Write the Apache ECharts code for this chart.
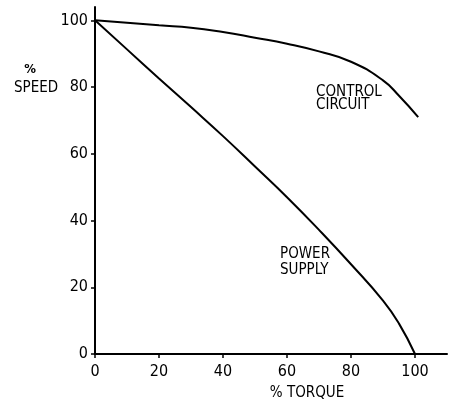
<!DOCTYPE html>
<html>
<head>
<meta charset="utf-8">
<script src="https://cdn.jsdelivr.net/npm/echarts@6/dist/echarts.min.js"></script>
<style>
  html, body { margin: 0; padding: 0; background: #fff; }
  #main { width: 451px; height: 403px; }
</style>
</head>
<body>
<div id="main"></div>
<script>
// values (% torque -> % speed)
const powerTorque = [0, 10, 20, 30, 40, 50, 60, 70, 80, 90, 95, 100];
const powerSpeed = [100, 91.3, 82.6, 74, 65.3, 56.2, 47, 37.2, 26.9, 16, 9.1, 0];
const controlTorque = [0, 10, 20, 30, 40, 50, 60, 70, 80, 90, 95, 101];
const controlSpeed = [100, 99.3, 98.5, 97.8, 96.5, 94.8, 93, 90.7, 87.6, 82, 77.4, 71];
const tickValues = [0, 20, 40, 60, 80, 100];

const font = '"DejaVu Sans Condensed", "DejaVu Sans", sans-serif';
const zip = (xs, ys) => xs.map((x, i) => [x, ys[i]]);

const myChart = echarts.init(document.getElementById('main'));

const axisCommon = {
  type: 'value',
  splitLine: { show: false },
  axisLine: { show: true, onZero: false, lineStyle: { color: '#000', width: 2 } },
  axisTick: { show: true, length: 4, customValues: tickValues, lineStyle: { color: '#000', width: 1.5 } },
  axisLabel: { customValues: tickValues, color: '#000', fontSize: 16, fontFamily: font }
};

const lineSeries = (name, xs, ys) => ({
  name: name,
  type: 'line',
  smooth: true,
  showSymbol: false,
  lineStyle: { color: '#000', width: 2 },
  data: zip(xs, ys)
});

const option = {
  animation: false,
  backgroundColor: '#fff',
  grid: { left: 95, right: 4, top: 7, bottom: 49 },
  xAxis: Object.assign({}, axisCommon, {
    min: 0, max: 110,
    axisLabel: Object.assign({}, axisCommon.axisLabel, { margin: 10 })
  }),
  yAxis: Object.assign({}, axisCommon, {
    min: 0, max: 104,
    axisLabel: Object.assign({}, axisCommon.axisLabel, { margin: 7 })
  }),
  series: [
    lineSeries('POWER SUPPLY', powerTorque, powerSpeed),
    lineSeries('CONTROL CIRCUIT', controlTorque, controlSpeed)
  ],
  graphic: [
    { type: 'text', x: 30, y: 70, style: { text: '%', font: 'bold 13px ' + font, fill: '#000', align: 'center', verticalAlign: 'middle' } },
    { type: 'text', x: 36, y: 88, style: { text: 'SPEED', font: '15px ' + font, fill: '#000', align: 'center', verticalAlign: 'middle' } },
    { type: 'text', x: 307, y: 393, style: { text: '% TORQUE', font: '15px ' + font, fill: '#000', align: 'center', verticalAlign: 'middle' } },
    { type: 'text', x: 316, y: 92, style: { text: 'CONTROL', font: '15px ' + font, fill: '#000', align: 'left', verticalAlign: 'middle' } },
    { type: 'text', x: 316, y: 105, style: { text: 'CIRCUIT', font: '15px ' + font, fill: '#000', align: 'left', verticalAlign: 'middle' } },
    { type: 'text', x: 280, y: 254, style: { text: 'POWER', font: '15px ' + font, fill: '#000', align: 'left', verticalAlign: 'middle' } },
    { type: 'text', x: 280, y: 270, style: { text: 'SUPPLY', font: '15px ' + font, fill: '#000', align: 'left', verticalAlign: 'middle' } }
  ]
};

myChart.setOption(option);
</script>
</body>
</html>
